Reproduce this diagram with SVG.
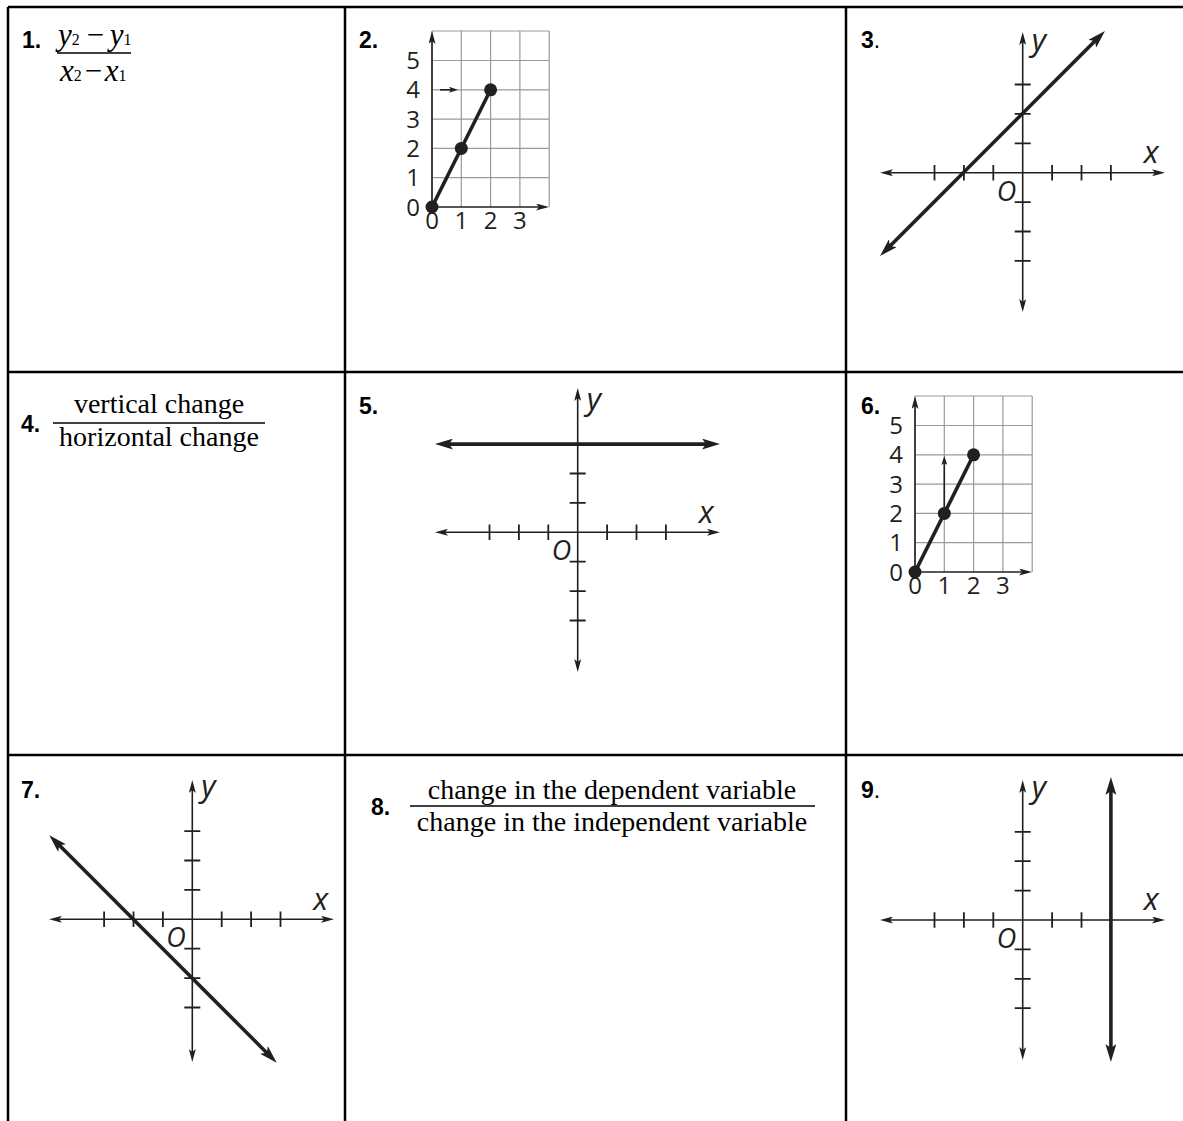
<svg xmlns="http://www.w3.org/2000/svg" width="1183" height="1121" viewBox="0 0 1183 1121">
<style>
.tb{stroke:#000;stroke-width:2.5;fill:none}
.lbl{font-family:"Liberation Sans",Arial,sans-serif;font-weight:bold;font-size:23px;fill:#000}
.ser{font-family:"Liberation Serif","Times New Roman",serif;font-size:28px;fill:#000}
.it{font-style:italic;font-size:31px}
.sub{font-size:16px;font-style:normal}
.bar{stroke:#000;stroke-width:1.3}
.ax{stroke:#231f20;stroke-width:1.6;fill:none}
.tk{stroke:#231f20;stroke-width:1.8}
.thk{stroke:#231f20;stroke-width:3.6;fill:none}
.grd{stroke:#9a9a9a;stroke-width:1.2;fill:none}
.gl{font-family:"Open Sans","DejaVu Sans",sans-serif;font-style:italic;fill:#231f20}
.dg{font-family:"Open Sans","DejaVu Sans",sans-serif;font-size:24px;fill:#231f20;text-anchor:middle}
.dot{fill:#231f20}
</style>
<defs>
<marker id="ax" viewBox="0 0 13 7" refX="5" refY="3.5" markerWidth="13" markerHeight="7" markerUnits="userSpaceOnUse" orient="auto-start-reverse"><path d="M0,0 L13,3.5 L0,7 L3,3.5 Z" fill="#231f20"/></marker>
<marker id="th" viewBox="0 0 18 11" refX="7" refY="5.5" markerWidth="18" markerHeight="11" markerUnits="userSpaceOnUse" orient="auto-start-reverse"><path d="M0,0 L18,5.5 L0,11 L4,5.5 Z" fill="#231f20"/></marker>
<marker id="sm" viewBox="0 0 9 6" refX="3" refY="3" markerWidth="9" markerHeight="6" markerUnits="userSpaceOnUse" orient="auto"><path d="M0,0 L9,3 L0,6 L2,3 Z" fill="#231f20"/></marker>
<g id="coordgrid">
<path class="grd" d="M0,0 V-176 M29.3,0 V-176 M58.6,0 V-176 M87.9,0 V-176 M117.2,0 V-176 M0,-29.3 H117.2 M0,-58.6 H117.2 M0,-87.9 H117.2 M0,-117.2 H117.2 M0,-146.5 H117.2 M0,-176 H117.2"/>
<line class="ax" x1="0" y1="0" x2="0" y2="-168" marker-end="url(#ax)"/>
<line class="ax" x1="0" y1="0" x2="109" y2="0" marker-end="url(#ax)"/>
<text class="dg" x="-19" y="8.5">0</text>
<text class="dg" x="-19" y="-20.8">1</text>
<text class="dg" x="-19" y="-50.1">2</text>
<text class="dg" x="-19" y="-79.4">3</text>
<text class="dg" x="-19" y="-108.7">4</text>
<text class="dg" x="-19" y="-138">5</text>
<text class="dg" x="0" y="22">0</text>
<text class="dg" x="29.3" y="22">1</text>
<text class="dg" x="58.6" y="22">2</text>
<text class="dg" x="87.9" y="22">3</text>
<line class="thk" x1="0" y1="0" x2="58.6" y2="-117.2"/>
<circle class="dot" cx="0" cy="0" r="6.5"/>
<circle class="dot" cx="29.3" cy="-58.6" r="6.5"/>
<circle class="dot" cx="58.6" cy="-117.2" r="6.5"/>
</g>
</defs>

<g id="table">
<path class="tb" d="M8,7 H1183 M8,372 H1183 M8,755 H1183 M8,7 V1121 M345,7 V1121 M846,7 V1121"/>
</g>

<g id="cell1">
<text class="lbl" x="22" y="48">1.</text>
<text class="ser it" x="58" y="45">y<tspan class="sub">2</tspan><tspan dx="5">−</tspan><tspan dx="4">y</tspan><tspan class="sub">1</tspan></text>
<line class="bar" x1="57" y1="53" x2="131" y2="53"/>
<text class="ser it" x="60" y="81">x<tspan class="sub">2</tspan><tspan dx="1">−</tspan><tspan dx="1">x</tspan><tspan class="sub">1</tspan></text>
</g>

<g id="cell2">
<text class="lbl" x="359" y="48">2.</text>
<use href="#coordgrid" x="432" y="207"/>
<line class="ax" stroke-width="1.4" x1="440" y1="89.8" x2="452" y2="89.8" marker-end="url(#sm)"/>
</g>

<g id="cell3">
<text class="lbl" x="861" y="48">3<tspan font-weight="normal">.</tspan></text>
<line class="ax" x1="888" y1="172.7" x2="1157" y2="172.7" marker-start="url(#ax)" marker-end="url(#ax)"/>
<line class="ax" x1="1022.7" y1="40" x2="1022.7" y2="304" marker-start="url(#ax)" marker-end="url(#ax)"/>
<path class="tk" d="M934.5,165 v15.4 M963.9,165 v15.4 M993.3,165 v15.4 M1052.1,165 v15.4 M1081.5,165 v15.4 M1110.9,165 v15.4 M1014.7,84.5 h16 M1014.7,113.9 h16 M1014.7,143.3 h16 M1014.7,202.1 h16 M1014.7,231.5 h16 M1014.7,260.9 h16"/>
<line class="thk" x1="887.8" y1="248.2" x2="1097.2" y2="38.8" marker-start="url(#th)" marker-end="url(#th)"/>
<text class="gl" font-size="31" x="1031.7" y="50.7">y</text>
<text class="gl" font-size="31" x="1143.7" y="163">x</text>
<text class="gl" font-size="27" x="996.7" y="200.7">O</text>
</g>

<g id="cell4">
<text class="lbl" x="21" y="432">4.</text>
<text class="ser" x="159" y="413" text-anchor="middle">vertical change</text>
<line class="bar" x1="53" y1="423" x2="265" y2="423"/>
<text class="ser" x="159" y="446" text-anchor="middle">horizontal change</text>
</g>

<g id="cell5">
<text class="lbl" x="359" y="414">5.</text>
<line class="ax" x1="443" y1="532.3" x2="712" y2="532.3" marker-start="url(#ax)" marker-end="url(#ax)"/>
<line class="ax" x1="577.7" y1="396" x2="577.7" y2="664" marker-start="url(#ax)" marker-end="url(#ax)"/>
<path class="tk" d="M489.5,524.6 v15.4 M518.9,524.6 v15.4 M548.3,524.6 v15.4 M607.1,524.6 v15.4 M636.5,524.6 v15.4 M665.9,524.6 v15.4 M569.7,473.5 h16 M569.7,502.9 h16 M569.7,561.7 h16 M569.7,591.1 h16 M569.7,620.5 h16"/>
<line class="thk" x1="446" y1="444.1" x2="709" y2="444.1" marker-start="url(#th)" marker-end="url(#th)"/>
<text class="gl" font-size="31" x="586.7" y="410.3">y</text>
<text class="gl" font-size="31" x="698.7" y="522.6">x</text>
<text class="gl" font-size="27" x="551.7" y="560.3">O</text>
</g>

<g id="cell6">
<text class="lbl" x="861" y="414">6.</text>
<use href="#coordgrid" x="915" y="572"/>
<line class="ax" stroke-width="1.4" x1="944.3" y1="510" x2="944.3" y2="462" marker-end="url(#sm)"/>
</g>

<g id="cell7">
<text class="lbl" x="21" y="798">7.</text>
<line class="ax" x1="57" y1="919.3" x2="326" y2="919.3" marker-start="url(#ax)" marker-end="url(#ax)"/>
<line class="ax" x1="192.3" y1="788" x2="192.3" y2="1054" marker-start="url(#ax)" marker-end="url(#ax)"/>
<path class="tk" d="M104.1,911.6 v15.4 M133.5,911.6 v15.4 M162.9,911.6 v15.4 M221.7,911.6 v15.4 M251.1,911.6 v15.4 M280.5,911.6 v15.4 M184.3,831.1 h16 M184.3,860.5 h16 M184.3,889.9 h16 M184.3,948.7 h16 M184.3,978.1 h16 M184.3,1007.5 h16"/>
<line class="thk" x1="57.1" y1="843.1" x2="268.9" y2="1054.9" marker-start="url(#th)" marker-end="url(#th)"/>
<text class="gl" font-size="31" x="201.3" y="797.3">y</text>
<text class="gl" font-size="31" x="313.3" y="909.6">x</text>
<text class="gl" font-size="27" x="166.3" y="947.3">O</text>
</g>

<g id="cell8">
<text class="lbl" x="371" y="815">8.</text>
<text class="ser" x="612" y="799" text-anchor="middle">change in the dependent variable</text>
<line class="bar" x1="410" y1="806" x2="815" y2="806"/>
<text class="ser" x="612" y="831" text-anchor="middle">change in the independent variable</text>
</g>

<g id="cell9">
<text class="lbl" x="861" y="798">9<tspan font-weight="normal">.</tspan></text>
<line class="ax" x1="888" y1="920" x2="1157" y2="920" marker-start="url(#ax)" marker-end="url(#ax)"/>
<line class="ax" x1="1022.7" y1="788" x2="1022.7" y2="1052" marker-start="url(#ax)" marker-end="url(#ax)"/>
<path class="tk" d="M934.5,912.3 v15.4 M963.9,912.3 v15.4 M993.3,912.3 v15.4 M1052.1,912.3 v15.4 M1081.5,912.3 v15.4 M1014.7,831.8 h16 M1014.7,861.2 h16 M1014.7,890.6 h16 M1014.7,949.4 h16 M1014.7,978.8 h16 M1014.7,1008.2 h16"/>
<line class="thk" x1="1110.9" y1="788" x2="1110.9" y2="1051" marker-start="url(#th)" marker-end="url(#th)"/>
<text class="gl" font-size="31" x="1031.7" y="798">y</text>
<text class="gl" font-size="31" x="1143.7" y="910.3">x</text>
<text class="gl" font-size="27" x="996.7" y="948">O</text>
</g>
</svg>
